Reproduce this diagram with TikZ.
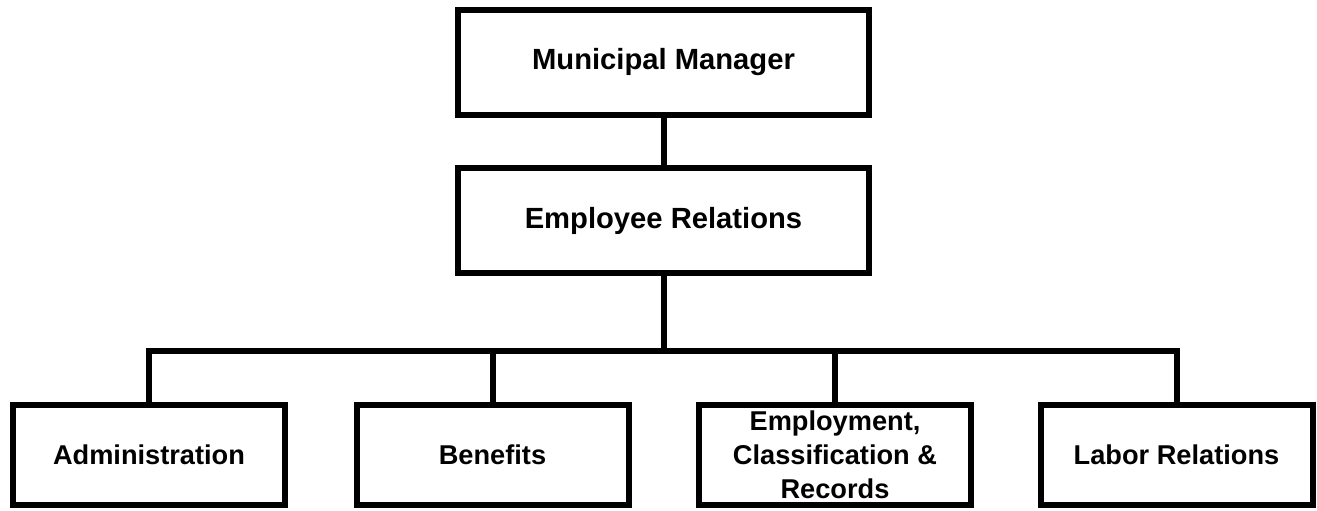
\documentclass[tikz,border=0pt]{standalone}
\usepackage{fontspec}
\setmainfont{Liberation Sans}
\usetikzlibrary{positioning}
\tikzset{
    unit/.style={draw, line width=3pt, inner sep=0pt, align=center, font=\bfseries},
    topbox/.style={unit, minimum width=205.5pt, minimum height=52.5pt, font=\fontsize{14.6}{17}\selectfont\bfseries},
    subbox/.style={unit, minimum width=136pt, minimum height=50pt, font=\fontsize{13.6}{17}\selectfont\bfseries},
    link/.style={line width=3pt, line join=miter},
}
\begin{document}
\begin{tikzpicture}[x=0.5pt, y=-0.5pt]
    \useasboundingbox (0,0) rectangle (1317,510);
    \node[topbox] (mm) at (663.5,62) {Municipal Manager};
    \node[topbox] (er) at (663.5,220.5) {Employee Relations};
    \coordinate (bus) at (663.5,351);
    \node[subbox] (adm) at (149,455) {Administration};
    \node[subbox] (ben) at (492.5,455) {Benefits};
    \node[subbox] (ecr) at (835,455) {Employment,\\Classification \&\\Records};
    \node[subbox] (lab) at (1176.5,455) {Labor Relations};
    \draw[link] (mm) -- (er);
    \draw[link] (er) -- (bus);
    \draw[link] (adm.north) |- (bus) -| (lab.north);
    \draw[link] (ben.north) -- (ben.north |- bus);
    \draw[link] (ecr.north) -- (ecr.north |- bus);
\end{tikzpicture}
\end{document}
